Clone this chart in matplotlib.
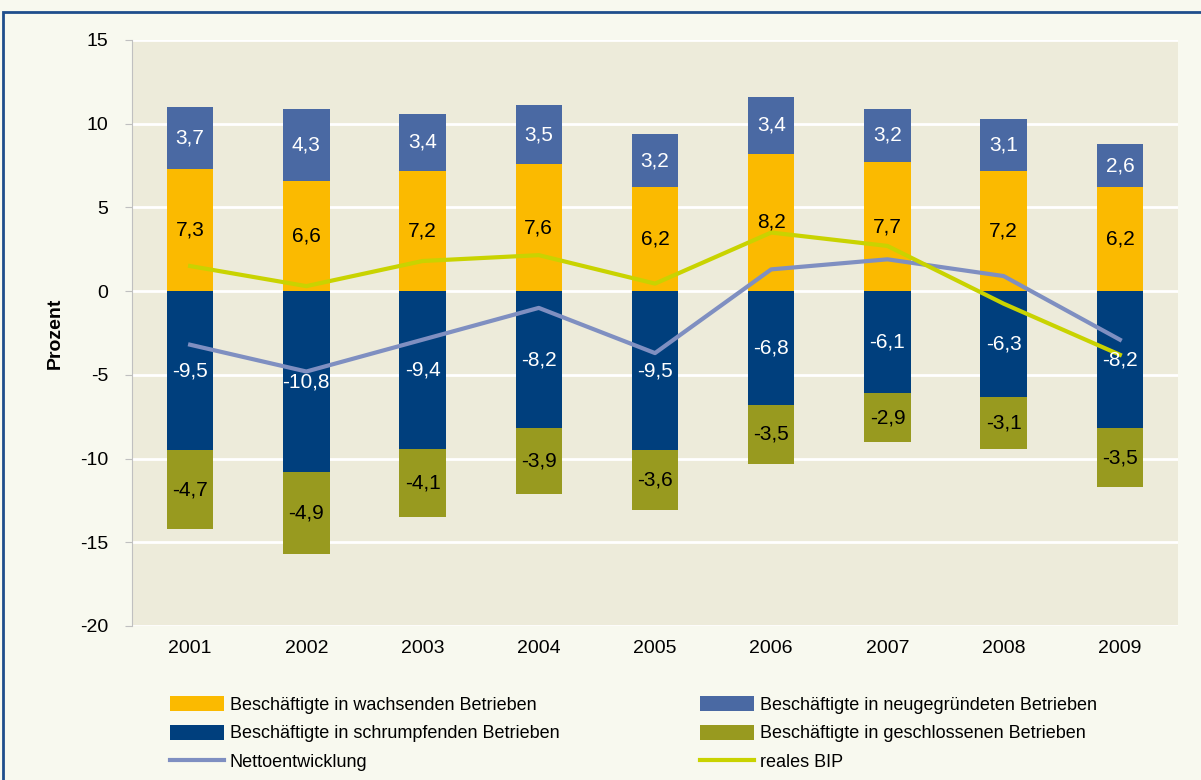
import matplotlib.pyplot as plt
from matplotlib.patches import Rectangle
import numpy as np

plt.rcParams['font.family'] = ['Liberation Sans', 'DejaVu Sans']
plt.rcParams['axes.unicode_minus'] = False

# Data
years = ["2001", "2002", "2003", "2004", "2005", "2006", "2007", "2008", "2009"]
wachsend = [7.3, 6.6, 7.2, 7.6, 6.2, 8.2, 7.7, 7.2, 6.2]
neu = [3.7, 4.3, 3.4, 3.5, 3.2, 3.4, 3.2, 3.1, 2.6]
schrumpf = [-9.5, -10.8, -9.4, -8.2, -9.5, -6.8, -6.1, -6.3, -8.2]
geschlossen = [-4.7, -4.9, -4.1, -3.9, -3.6, -3.5, -2.9, -3.1, -3.5]
netto = [-3.2, -4.8, -2.9, -1.0, -3.7, 1.3, 1.9, 0.9, -2.9]
bip = [1.5, 0.3, 1.8, 2.15, 0.45, 3.5, 2.7, -0.75, -3.8]

labels = ["Beschäftigte in wachsenden Betrieben", "Beschäftigte in neugegründeten Betrieben",
          "Beschäftigte in schrumpfenden Betrieben", "Beschäftigte in geschlossenen Betrieben",
          "Nettoentwicklung", "reales BIP"]

c_wachs = "#FBBA00"
c_neu = "#4A69A3"
c_schr = "#003F7D"
c_geschl = "#989A1F"
c_netto = "#7F8FC1"
c_bip = "#C9D300"

fig = plt.figure(figsize=(12.01, 7.80), dpi=100)
fig.patch.set_facecolor("#F8F9EF")
fig.patches.append(Rectangle((3 / 1201, -0.01), 1.0, (780 - 12) / 780 + 0.01,
                             transform=fig.transFigure, fill=False,
                             edgecolor="#1F4E8C", linewidth=2))

ax = fig.add_axes([132 / 1201, 154 / 780, (1178 - 132) / 1201, (626 - 40) / 780])
ax.set_facecolor("#EDEBDA")

x = np.arange(len(years))
w = 0.4
wachs = np.array(wachsend)
schr = np.array(schrumpf)

b1 = ax.bar(x, wachs, w, color=c_wachs, zorder=3)
b2 = ax.bar(x, neu, w, bottom=wachs, color=c_neu, zorder=3)
b3 = ax.bar(x, schr, w, color=c_schr, zorder=3)
b4 = ax.bar(x, geschlossen, w, bottom=schr, color=c_geschl, zorder=3)

l1, = ax.plot(x, netto, color=c_netto, linewidth=3, zorder=4)
l2, = ax.plot(x, bip, color=c_bip, linewidth=3, zorder=4)

def fmt(v):
    return f"{v:.1f}".replace(".", ",")

fs = 15
for i in range(len(years)):
    ax.text(x[i], wachsend[i] / 2, fmt(wachsend[i]), ha="center", va="center", fontsize=fs, color="black", zorder=5)
    ax.text(x[i], wachsend[i] + neu[i] / 2, fmt(neu[i]), ha="center", va="center", fontsize=fs, color="white", zorder=5)
    ax.text(x[i], schrumpf[i] / 2, fmt(schrumpf[i]), ha="center", va="center", fontsize=fs, color="white", zorder=5)
    ax.text(x[i], schrumpf[i] + geschlossen[i] / 2, fmt(geschlossen[i]), ha="center", va="center", fontsize=fs, color="black", zorder=5)

ax.set_xlim(-0.5, len(years) - 0.5)
ax.set_ylim(-20, 15)
ax.set_yticks(range(-20, 16, 5))
ax.set_xticks(x)
ax.set_xticklabels(years)
ax.tick_params(axis="both", labelsize=14, colors="#C0C0C0", labelcolor="black")
ax.tick_params(axis="x", length=0, pad=10)
ax.tick_params(axis="y", length=5, pad=12)
ax.yaxis.grid(True, color="white", linewidth=2, zorder=0)
ax.set_axisbelow(True)
for s in ["top", "right", "bottom"]:
    ax.spines[s].set_visible(False)
ax.spines["left"].set_color("#C0C0C0")
ax.set_ylabel("Prozent", fontsize=14, fontweight="bold", labelpad=12)

handles = [b1, b3, l1, b2, b4, l2]
labs = [labels[0], labels[2], labels[4], labels[1], labels[3], labels[5]]
ax.legend(handles, labs, ncol=2,
          loc="upper left", bbox_to_anchor=(0.021, -0.092), frameon=False,
          fontsize=13, handlelength=3, handleheight=0.9, columnspacing=7.8,
          labelspacing=0.6, handletextpad=0.3)

fig.savefig("out.png", dpi=100, facecolor=fig.get_facecolor())
